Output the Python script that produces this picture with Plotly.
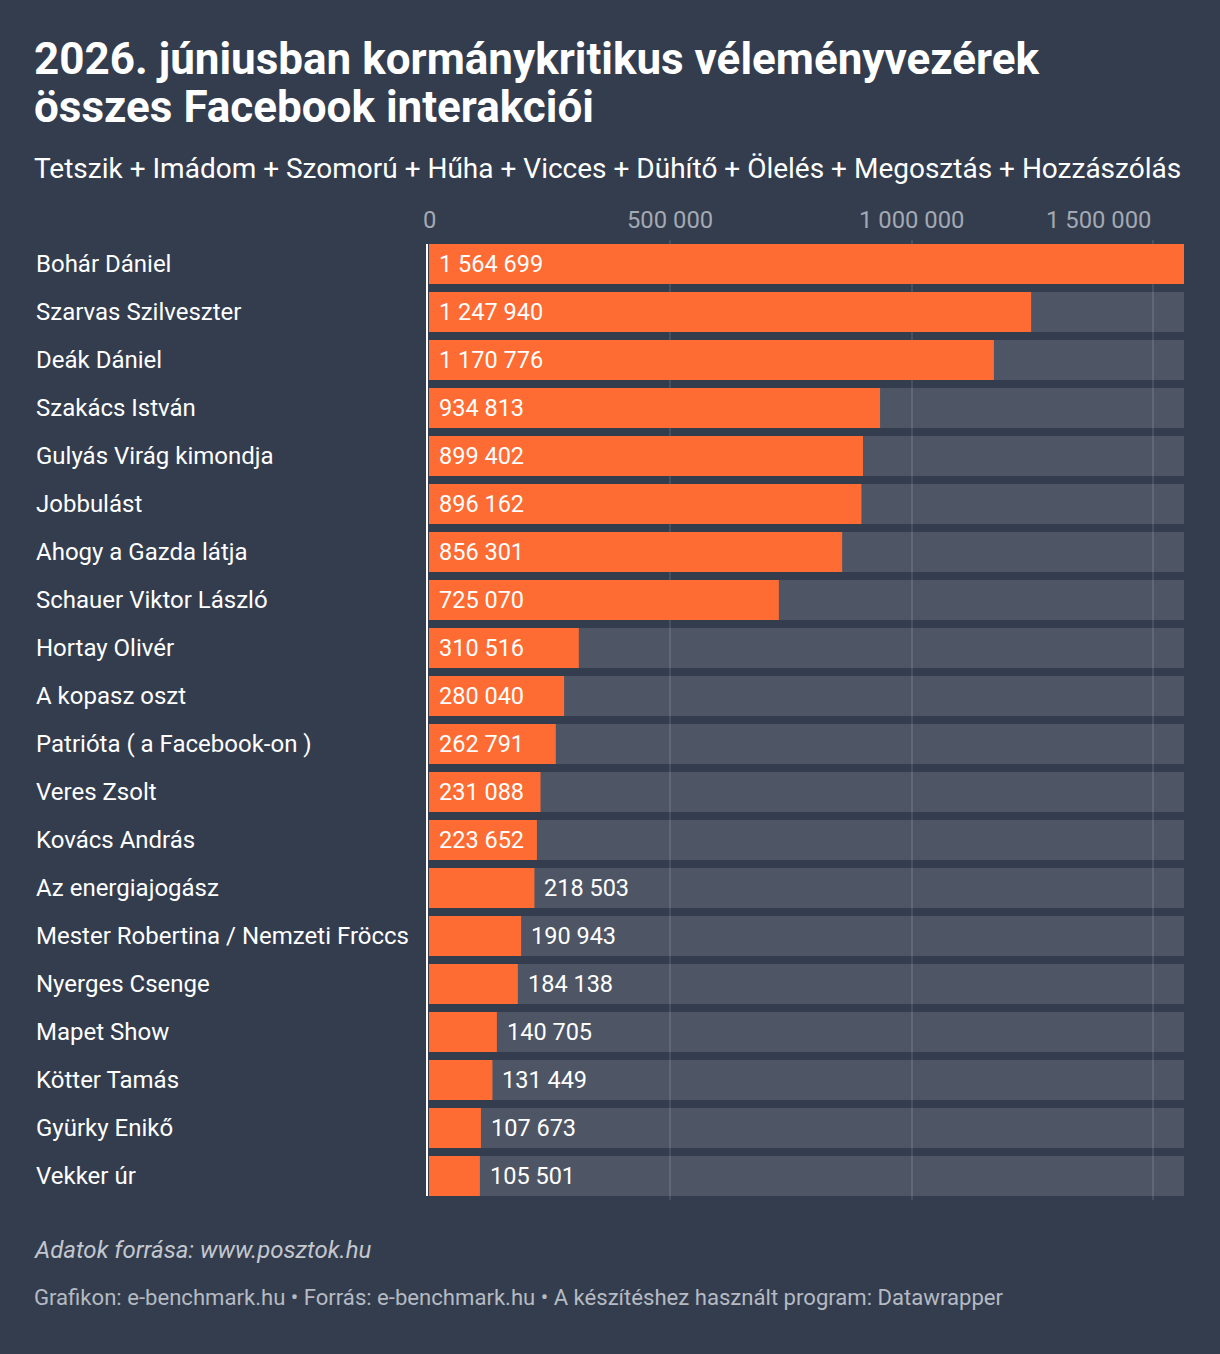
import plotly.graph_objects as go

names = ["Bohár Dániel", "Szarvas Szilveszter", "Deák Dániel", "Szakács István",
         "Gulyás Virág kimondja", "Jobbulást", "Ahogy a Gazda látja", "Schauer Viktor László",
         "Hortay Olivér", "A kopasz oszt", "Patrióta ( a Facebook-on )", "Veres Zsolt",
         "Kovács András", "Az energiajogász", "Mester Robertina / Nemzeti Fröccs",
         "Nyerges Csenge", "Mapet Show", "Kötter Tamás", "Gyürky Enikő", "Vekker úr"]
values = [1564699, 1247940, 1170776, 934813, 899402, 896162, 856301, 725070,
          310516, 280040, 262791, 231088, 223652, 218503, 190943, 184138,
          140705, 131449, 107673, 105501]
tick_vals = [0, 500000, 1000000, 1500000]
tick_text = ["0", "500 000", "1 000 000", "1 500 000"]

title_1 = "2026. júniusban kormánykritikus véleményvezérek"
title_2 = "összes Facebook interakciói"
subtitle = "Tetszik + Imádom + Szomorú + Hűha + Vicces + Dühítő + Ölelés + Megosztás + Hozzászólás"
note = "Adatok forrása: www.posztok.hu"
credit = "Grafikon: e-benchmark.hu • Forrás: e-benchmark.hu • A készítéshez használt program: Datawrapper"

BG = "#333d4e"
ORANGE = "#fe6b33"
FONT = "Roboto"

W, H = 1220, 1354
L, R, T, B = 428, 36, 240, 154
PW, PH = W - L - R, H - T - B
vmax = max(values)
xmin = -vmax / (PW - 1)

def px_x(px):
    return (px - L) / PW

def px_y(py):
    return (H - B - py) / PH

fig = go.Figure()
fig.add_trace(go.Bar(
    y=names, x=[vmax] * len(names), orientation="h",
    marker=dict(color="rgba(255,255,255,0.135)", line=dict(width=0)),
    hoverinfo="skip", showlegend=False))
fig.add_trace(go.Bar(
    y=names, x=values, orientation="h",
    marker=dict(color=ORANGE, line=dict(width=0)),
    showlegend=False))

ann = []
for n, v in zip(names, values):
    label = f"{v:,}".replace(",", " ")
    inside = v > 220000
    ann.append(dict(x=0 if inside else v, y=n, xref="x", yref="y", text=label,
                    showarrow=False, xanchor="left", yanchor="middle",
                    xshift=8, font=dict(family=FONT, size=23.5, color="white")))
    ann.append(dict(x=px_x(34), y=n, xref="paper", yref="y", text=n,
                    showarrow=False, xanchor="left", yanchor="middle",
                    font=dict(family=FONT, size=24, color="white")))

for i, (tv, tt) in enumerate(zip(tick_vals, tick_text)):
    last = i == len(tick_vals) - 1
    ann.append(dict(x=tv, y=px_y(220), xref="x", yref="paper", text=tt,
                    showarrow=False, xanchor="right" if last else "center",
                    yanchor="middle",
                    font=dict(family=FONT, size=23.8, color="#a3a9b3")))

ann.append(dict(x=px_x(32), y=px_y(59), xref="paper", yref="paper", text="<b>" + title_1 + "</b>",
                showarrow=False, xanchor="left", yanchor="middle",
                font=dict(family=FONT, size=44, color="white")))
ann.append(dict(x=px_x(32), y=px_y(107), xref="paper", yref="paper", text="<b>" + title_2 + "</b>",
                showarrow=False, xanchor="left", yanchor="middle",
                font=dict(family=FONT, size=44, color="white")))
ann.append(dict(x=px_x(32), y=px_y(168), xref="paper", yref="paper", text=subtitle,
                showarrow=False, xanchor="left", yanchor="middle",
                font=dict(family=FONT, size=28, color="white")))
ann.append(dict(x=px_x(32), y=px_y(1250), xref="paper", yref="paper", text="<i>" + note + "</i>",
                showarrow=False, xanchor="left", yanchor="middle",
                font=dict(family=FONT, size=24, color="#c3c7ce")))
ann.append(dict(x=px_x(32), y=px_y(1297), xref="paper", yref="paper", text=credit,
                showarrow=False, xanchor="left", yanchor="middle",
                font=dict(family=FONT, size=22.1, color="#b5bac2")))

fig.update_layout(
    width=W, height=H,
    margin=dict(l=L, r=R, t=T, b=B, pad=0),
    paper_bgcolor=BG, plot_bgcolor=BG,
    barmode="overlay", bargap=8 / 48,
    annotations=ann,
    xaxis=dict(range=[xmin, vmax], tickvals=tick_vals, showticklabels=False,
               showgrid=True, gridcolor="#485162", gridwidth=1.5,
               zeroline=False, showline=False, fixedrange=True),
    yaxis=dict(autorange="reversed", showticklabels=False, showgrid=False,
               zeroline=False, showline=False, ticks="", fixedrange=True),
    shapes=[dict(type="line", xref="paper", yref="paper", x0=-1 / PW, x1=-1 / PW,
                 y0=px_y(1196), y1=px_y(244), line=dict(color="white", width=2))],
    font=dict(family=FONT, color="white"),
)

fig.write_html("out.html", config={"displayModeBar": False},
               post_script="document.body.style.margin='0';document.body.style.overflow='hidden';")
